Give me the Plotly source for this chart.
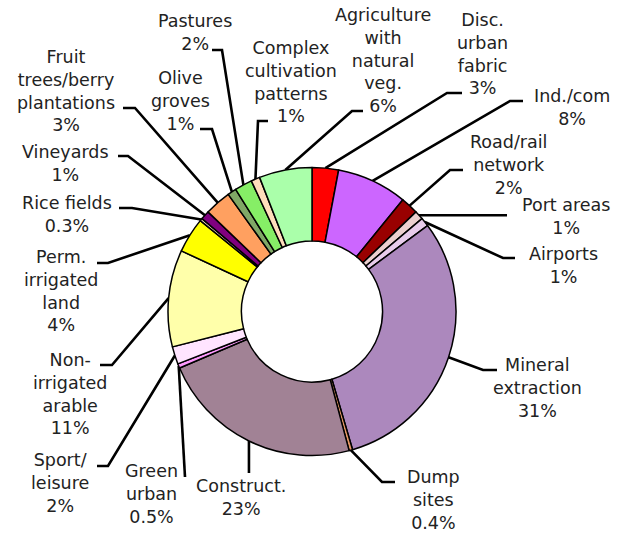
import math
import plotly.graph_objects as go

# Land-cover categories, clockwise from 12 o'clock
categories = [
    "Disc. urban fabric", "Ind./com", "Road/rail network", "Port areas",
    "Airports", "Mineral extraction", "Dump sites", "Construct.",
    "Green urban", "Sport/ leisure", "Non-irrigated arable",
    "Perm. irrigated land", "Rice fields", "Vineyards",
    "Fruit trees/berry plantations", "Olive groves", "Pastures",
    "Complex cultivation patterns", "Agriculture with natural veg.",
]
shares = [3, 8, 2, 1, 1, 31, 0.4, 23, 0.5, 2, 11, 4, 0.3, 1, 3, 1, 2, 1, 6]
label_lines = [
    ["Disc.", "urban", "fabric"], ["Ind./com"], ["Road/rail", "network"],
    ["Port areas"], ["Airports"], ["Mineral", "extraction"],
    ["Dump", "sites"], ["Construct."], ["Green", "urban"],
    ["Sport/", "leisure"], ["Non-", "irrigated", "arable"],
    ["Perm.", "irrigated", "land"], ["Rice fields"], ["Vineyards"],
    ["Fruit", "trees/berry", "plantations"], ["Olive", "groves"],
    ["Pastures"], ["Complex", "cultivation", "patterns"],
    ["Agriculture", "with", "natural", "veg."],
]

colors = [
    "#FF0000", "#CC66FF", "#990000", "#EBCFCF", "#E8CCEB", "#AC88BD",
    "#E69966", "#A18295", "#FF99FF", "#FFE4FF", "#FFFFAA", "#FFFF00",
    "#F5D8C8", "#800080", "#FFA060", "#80A866", "#86EE66", "#FFDDBB",
    "#AAFFAA",
]

# Page geometry (pixels)
W, H = 624, 533
CX, CY, R = 312, 311.5, 144
HOLE = 0.49

# Label placement: text centre, leader elbow, leader end (None -> use arc coordinate)
label_pos = [
    (482, 54), (572, 107.5), (508, 164.5), (566, 216.5), (563, 265.5),
    (537, 387.5), (433, 500), (241, 497.5), (151, 493.5), (60, 482.5),
    (70, 394), (61, 291), (67, 214.5), (65, 163.5), (66, 91),
    (180, 101), (195, 32.5), (291, 81.5), (383, 60.5),
]
elbows = [
    ((447, 93), (462, 93)), ((510, 101), (523, 101)),
    ((450, 170), (463, 170)), ((507, None), (507, None)),
    ((503, 258), (515, 258)), ((483, 370), (497, 370)),
    ((382, 482), (395, 482)), ((None, 473), (None, 473)),
    ((185, 477), (185, 477)), ((108, 466), (97, 466)),
    ((112, 365), (100, 365)), ((108, 263), (97, 263)),
    ((132, 208), (119, 208)), ((128, 156), (118, 156)),
    ((135, 108), (123, 108)), ((212, 129), (200, 129)),
    ((222, 50), (212, 50)), ((258, 121), (268, 121)),
    ((352, 111), (363, 111)),
]

FONT = "DejaVu Sans, Verdana, sans-serif"
TEXT_COLOR = "#222222"

fig = go.Figure()

fig.add_trace(go.Pie(
    labels=categories,
    values=shares,
    sort=False,
    direction="clockwise",
    rotation=0,
    hole=HOLE,
    marker=dict(colors=colors, line=dict(color="#000000", width=1.5)),
    textinfo="none",
    hoverinfo="label+percent",
    showlegend=False,
    domain=dict(
        x=[(CX - R) / W, (CX + R) / W],
        y=[(H - CY - R) / H, (H - CY + R) / H],
    ),
))

# Leader lines: start at the outer rim at each slice's mid-angle
total = sum(shares)
cum = 0.0
for i, v in enumerate(shares):
    theta = math.radians(360.0 * (cum + v / 2.0) / total)
    cum += v
    ax = CX + R * math.sin(theta)
    ay = CY - R * math.cos(theta)
    (ex, ey), (hx, hy) = elbows[i]
    ex = ax if ex is None else ex
    ey = ay if ey is None else ey
    hx = ex if hx is None else hx
    hy = ey if hy is None else hy
    fig.add_trace(go.Scatter(
        x=[ax, ex, hx], y=[ay, ey, hy], mode="lines",
        line=dict(color="#000000", width=2.6),
        hoverinfo="skip", showlegend=False,
    ))

    pct = f"{v:g}%"
    tx, ty = label_pos[i]
    fig.add_annotation(
        x=tx, y=ty, xref="x", yref="y",
        text="<br>".join(label_lines[i] + [pct]),
        showarrow=False, xanchor="center", yanchor="middle", align="center",
        font=dict(family=FONT, size=17.5, color=TEXT_COLOR),
    )

fig.update_layout(
    width=W, height=H,
    margin=dict(l=0, r=0, t=0, b=0),
    paper_bgcolor="white", plot_bgcolor="rgba(0,0,0,0)",
    xaxis=dict(range=[0, W], visible=False, domain=[0, 1], fixedrange=True),
    yaxis=dict(range=[H, 0], visible=False, domain=[0, 1], fixedrange=True),
)

fig.write_html("out.html")
